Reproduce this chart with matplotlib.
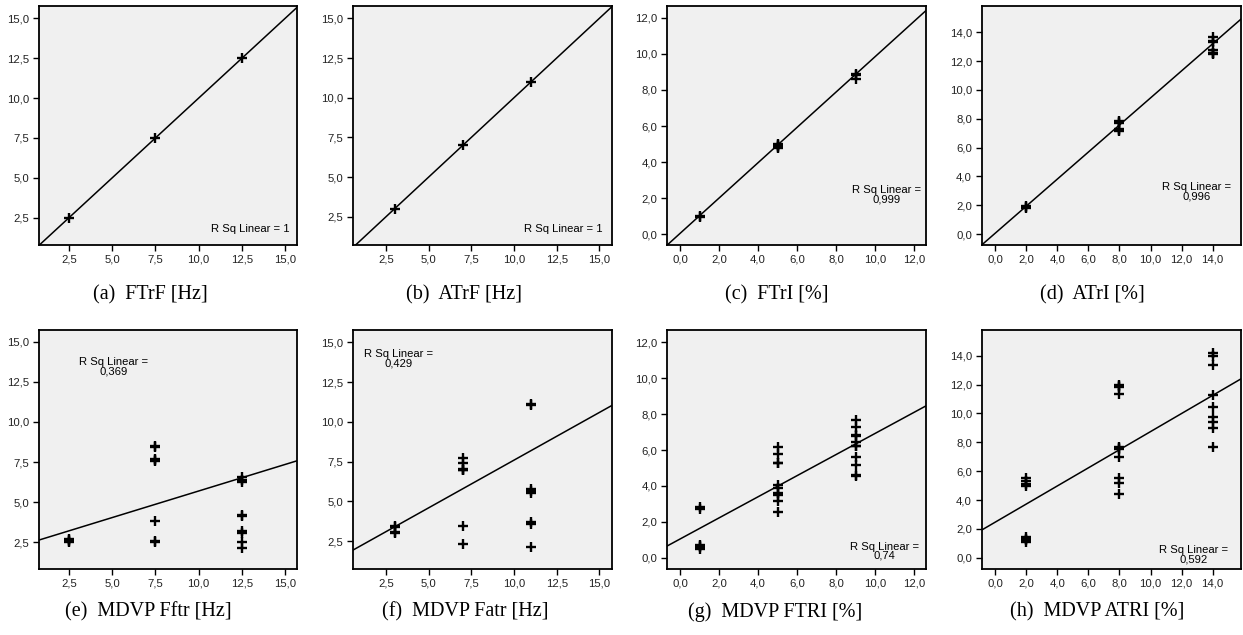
import numpy as np
import matplotlib
matplotlib.use("Agg")
import matplotlib.pyplot as plt

plt.rcParams["font.family"] = ["Liberation Sans", "DejaVu Sans"]

# --- data: x level of each group and the y values measured at that level ---
a_levels = [2.5, 7.5, 12.5]
a_values = [[2.5], [7.5], [12.5]]
b_levels = [3, 7, 11]
b_values = [[3.0], [7.0], [11.0]]
c_levels = [1, 5, 9]
c_values = [[1.0, 0.95], [4.8, 4.85, 4.9, 4.95, 5.0], [8.9, 8.8, 8.6]]
d_levels = [2, 8, 14]
d_values = [[1.95, 1.85, 1.8],
            [7.85, 7.75, 7.7, 7.3, 7.2, 7.15],
            [13.7, 13.4, 13.3, 12.8, 12.6, 12.55, 12.5]]
e_levels = [2.5, 7.5, 12.5]
e_values = [[2.7, 2.6, 2.55, 2.65],
            [8.5, 8.45, 7.7, 7.6, 7.55, 3.8, 2.6, 2.55],
            [6.6, 6.4, 6.25, 4.2, 4.15, 3.2, 3.1, 2.55, 2.15]]
f_levels = [3, 7, 11]
f_values = [[3.45, 3.4, 3.05, 3.0],
            [7.7, 7.4, 7.05, 7.0, 6.95, 3.45, 2.3],
            [11.1, 11.05, 5.8, 5.65, 5.5, 3.7, 3.6, 2.15]]
g_levels = [1, 5, 9]
g_values = [[2.8, 2.7, 0.7, 0.65, 0.6, 0.5],
            [6.15, 5.77, 5.3, 5.25, 4.05, 3.86, 3.6, 3.5, 3.17, 2.56],
            [7.67, 7.26, 6.85, 6.78, 6.46, 6.25, 6.2, 5.62, 5.16, 4.6, 4.55]]
h_levels = [2, 8, 14]
h_values = [[5.55, 5.35, 5.1, 4.95, 1.45, 1.3, 1.2, 1.1],
            [12.0, 11.9, 11.8, 11.35, 7.7, 7.6, 7.5, 7.0, 5.55, 5.16, 4.4],
            [14.2, 14.0, 13.35, 11.28, 10.47, 9.73, 9.43, 8.97, 7.65]]

# linear fit lines (slope, intercept) and R squared labels
fit_slopes = [1.0, 1.0, 0.98, 0.94, 0.331, 0.60, 0.589, 0.628]
fit_intercepts = [0.0, 0.0, 0.05, 0.05, 2.39, 1.59, 1.04, 2.46]
r2_labels = ["1", "1", "0,999", "0,996", "0,369", "0,429", "0,74", "0,592"]

captions = ["(a)  FTrF [Hz]", "(b)  ATrF [Hz]", "(c)  FTrI [%]", "(d)  ATrI [%]",
            "(e)  MDVP Fftr [Hz]", "(f)  MDVP Fatr [Hz]", "(g)  MDVP FTRI [%]",
            "(h)  MDVP ATRI [%]"]

ticks_hz = [2.5, 5.0, 7.5, 10.0, 12.5, 15.0]
ticks_12 = [0, 2, 4, 6, 8, 10, 12]
ticks_14 = [0, 2, 4, 6, 8, 10, 12, 14]

levels = [a_levels, b_levels, c_levels, d_levels, e_levels, f_levels, g_levels, h_levels]
values = [a_values, b_values, c_values, d_values, e_values, f_values, g_values, h_values]
ticks = [ticks_hz, ticks_hz, ticks_12, ticks_14, ticks_hz, ticks_hz, ticks_12, ticks_14]

# --- layout (pixels in a 1243x635 figure) ---
W, H = 1243, 635
cols = [(38.7, 297.3), (352.7, 612.3), (667.3, 926.0), (981.7, 1240.7)]
rows = [(6, 245), (330, 569)]
xlims = [(0.75, 15.7), (0.55, 15.76), (-0.65, 12.6), (-0.86, 15.8)]
ylims = [(0.79, 15.77), (0.72, 15.78), (-0.59, 12.65), (-0.76, 15.83),
         (0.84, 15.73), (0.74, 15.78), (-0.63, 12.69), (-0.78, 15.78)]
r2_pos = [(0.818, 0.066), (0.81, 0.066), (0.848, 0.209), (0.83, 0.223),
          (0.29, 0.845), (0.176, 0.88), (0.84, 0.074), (0.817, 0.061)]
cap_x = [150, 464, 777, 1092, 148, 465, 775, 1097]
cap_y = [295, 612]

fig = plt.figure(figsize=(W / 100, H / 100), dpi=100)

for i in range(8):
    r, c = divmod(i, 4)
    x0, x1 = cols[c]
    y0, y1 = rows[r]
    ax = fig.add_axes([x0 / W, 1 - y1 / H, (x1 - x0) / W, (y1 - y0) / H])
    ax.set_facecolor("#f0f0f0")

    xs = np.repeat(levels[i], [len(v) for v in values[i]])
    ys = np.concatenate(values[i])
    ax.plot(xs, ys, "+", color="black", markersize=7.5, markeredgewidth=1.7)
    ax.axline((0, fit_intercepts[i]), slope=fit_slopes[i], color="black", lw=1.1)

    ax.set_xlim(*xlims[c])
    ax.set_ylim(*ylims[i])
    ax.set_xticks(ticks[i])
    ax.set_yticks(ticks[i])
    lbls = [f"{t:.1f}".replace(".", ",") for t in ticks[i]]
    ax.set_xticklabels(lbls)
    ax.set_yticklabels(lbls)
    ax.tick_params(direction="out", length=4, width=1, labelsize=8.2, pad=3,
                   colors="black", labelcolor="#222222")
    for s in ax.spines.values():
        s.set_linewidth(1.3)

    if r2_labels[i] == "1":
        txt = "R Sq Linear = 1"
    else:
        txt = "R Sq Linear =\n" + r2_labels[i]
    ax.text(*r2_pos[i], txt, transform=ax.transAxes, ha="center", va="center",
            fontsize=8.1, linespacing=0.9, multialignment="center")

    fig.text(cap_x[i] / W, 1 - cap_y[r] / H, captions[i], ha="center", va="center",
             fontsize=14.5, family=["Liberation Serif", "DejaVu Serif"])

fig.savefig("out.png", dpi=100)
